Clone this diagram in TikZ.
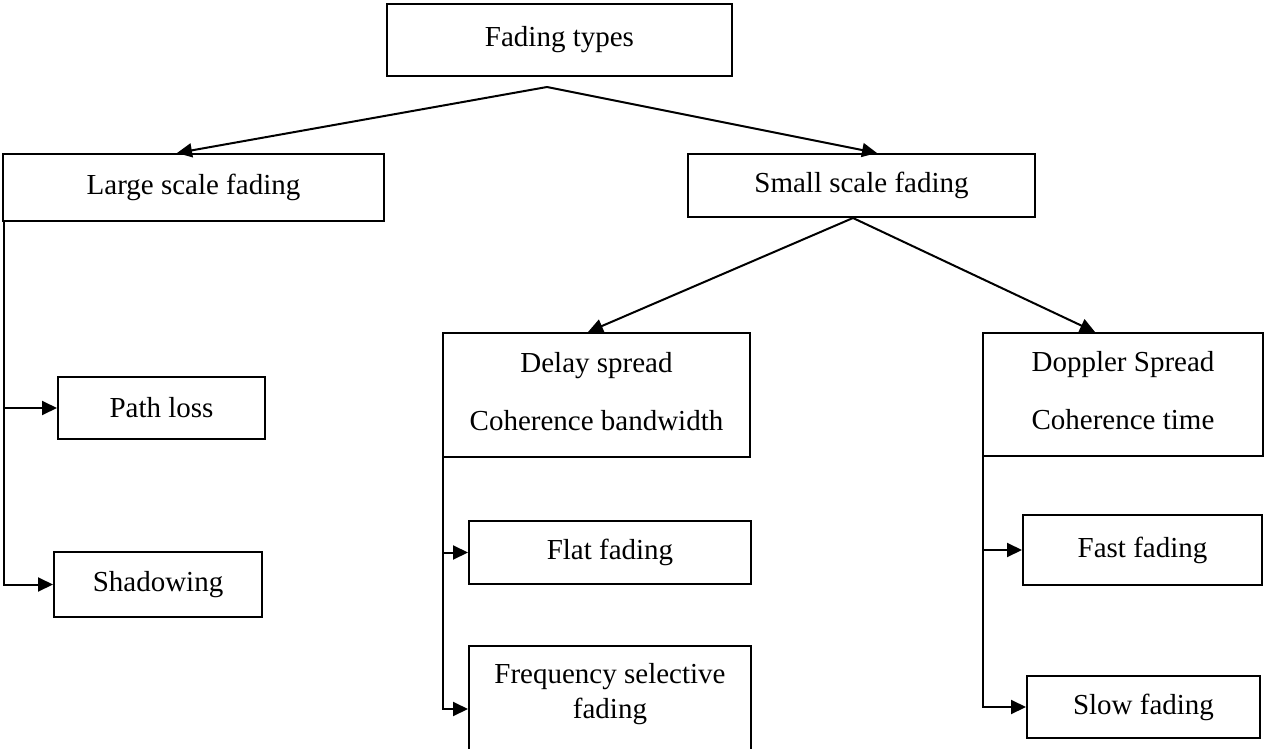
\documentclass[tikz,border=0pt]{standalone}
\usepackage{fontspec}
\setmainfont{Liberation Serif}
\usetikzlibrary{arrows.meta}
\begin{document}
\begin{tikzpicture}[x=1pt,y=-1pt,
  box/.style={draw,line width=2pt,rectangle,inner sep=0pt,
    font=\fontsize{29}{35}\selectfont,align=center},
  conn/.style={line width=2pt},
  arr/.style={conn,-{Triangle[length=15pt,width=14pt]}}]
\useasboundingbox (0,0) rectangle (1264,749);
\clip (0,0) rectangle (1264,749);
\node[box,minimum width=345pt,minimum height=72pt] (ft) at (559.5,40) {Fading types};
\node[box,minimum width=381pt,minimum height=67pt] (lsf) at (193.5,187.5) {Large scale fading};
\node[box,minimum width=347pt,minimum height=63pt] (ssf) at (861.5,185.5) {Small scale fading};
\node[box,minimum width=207pt,minimum height=62pt] (pl) at (161.5,408) {Path loss};
\node[box,minimum width=208pt,minimum height=65pt] (sh) at (158,584.5) {Shadowing};
\node[box,minimum width=307pt,minimum height=124pt] (ds) at (596.5,395) {Delay spread\\[23pt]Coherence bandwidth\\[-27pt]\mbox{}};
\node[box,minimum width=280pt,minimum height=123pt] (dop) at (1123,394.5) {Doppler Spread\\[23pt]Coherence time\\[-27pt]\mbox{}};
\node[box,minimum width=282pt,minimum height=63pt] (flat) at (610,552.5) {Flat fading};
\node[box,minimum width=282pt,minimum height=126pt] (freq) at (610,709) {Frequency selective\\fading\\[2pt]\mbox{}};
\node[box,minimum width=239pt,minimum height=70pt] (fast) at (1142.5,550) {Fast fading};
\node[box,minimum width=233pt,minimum height=62pt] (slow) at (1143.5,707) {Slow fading};
\coordinate (a1) at (547,87);
\draw[arr] (a1) -- ([xshift=-16.5pt]lsf.north);
\draw[arr] (a1) -- ([xshift=15.5pt]ssf.north);
\draw[arr] ([xshift=-8.5pt]ssf.south) -- ([xshift=-8.5pt]ds.north);
\draw[arr] ([xshift=-8.5pt]ssf.south) -- ([xshift=-28pt]dop.north);
\draw[arr] ([xshift=2pt]lsf.south west) |- (pl.west);
\draw[arr] ([xshift=2pt]lsf.south west) |- (sh.west);
\draw[arr] ([xshift=1pt]ds.south west) |- (flat.west);
\draw[arr] ([xshift=1pt]ds.south west) |- (freq.west);
\draw[arr] ([xshift=1pt]dop.south west) |- (fast.west);
\draw[arr] ([xshift=1pt]dop.south west) |- (slow.west);
\end{tikzpicture}
\end{document}
